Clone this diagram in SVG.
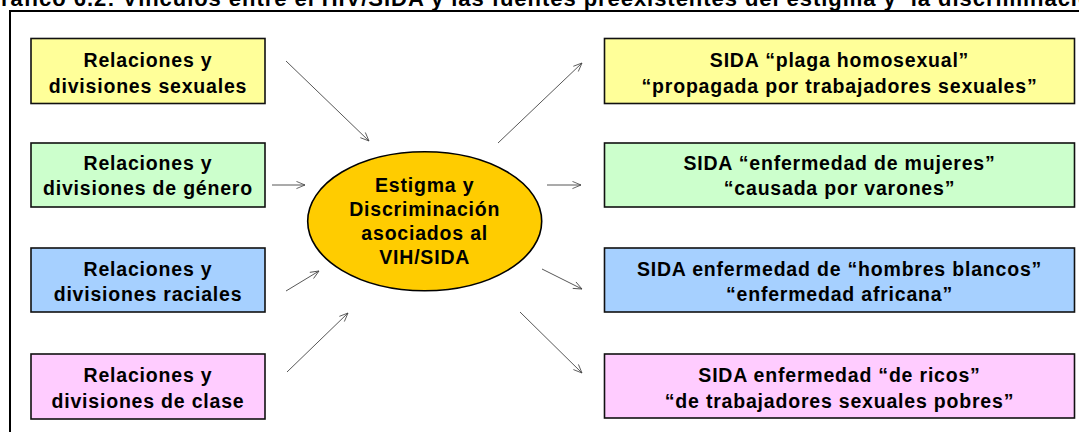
<svg xmlns="http://www.w3.org/2000/svg" width="1079" height="432" viewBox="0 0 1079 432">
<style>
.t{font-family:"Liberation Sans",Arial,sans-serif;font-weight:bold;font-size:19.5px;letter-spacing:0.8px;fill:#000;text-anchor:middle}
.title{font-family:"Liberation Sans",Arial,sans-serif;font-weight:bold;font-size:22px;letter-spacing:0.95px;fill:#000;white-space:pre}
.box{stroke:#111;stroke-width:1.6}
.c{stroke:#444;stroke-width:0.9;fill:none;marker-end:url(#ah)}
</style>
<defs>
<marker id="ah" viewBox="0 0 10 10" refX="10" refY="5" markerWidth="10" markerHeight="9" markerUnits="userSpaceOnUse" orient="auto">
<path d="M0.5,1 L10,5 L0.5,9" fill="none" stroke="#444" stroke-width="0.9"/>
</marker>
</defs>
<rect width="1079" height="432" fill="#fff"/>
<text class="title" x="-17" y="6">Gráfico 6.2: Vínculos entre el HIV/SIDA y las fuentes preexistentes del estigma y  la discriminación</text>
<path d="M10,440 V11 H1090" fill="none" stroke="#000" stroke-width="2"/>

<g id="connectors">
<line class="c" x1="286" y1="61" x2="369" y2="141"/>
<line class="c" x1="272" y1="185" x2="305" y2="185"/>
<line class="c" x1="286" y1="291" x2="319" y2="271"/>
<line class="c" x1="287" y1="372" x2="348" y2="313"/>
<line class="c" x1="498" y1="143" x2="582" y2="63"/>
<line class="c" x1="547" y1="185" x2="581" y2="185"/>
<line class="c" x1="542" y1="269" x2="582" y2="289"/>
<line class="c" x1="520" y1="312" x2="582" y2="373"/>
</g>

<g id="center">
<ellipse cx="424.7" cy="221.2" rx="117" ry="69.5" fill="#FFCC00" stroke="#000" stroke-width="1.6"/>
<text class="t" x="424.7" y="192">Estigma y</text>
<text class="t" x="424.7" y="216">Discriminación</text>
<text class="t" x="424.7" y="240">asociados al</text>
<text class="t" x="424.7" y="264">VIH/SIDA</text>
</g>

<g id="l1">
<rect class="box" x="31" y="38.5" width="234" height="65" fill="#FFFF99"/>
<text class="t" x="148" y="67">Relaciones y</text>
<text class="t" x="148" y="93">divisiones sexuales</text>
</g>
<g id="l2">
<rect class="box" x="31" y="143" width="234" height="64" fill="#CCFFCC"/>
<text class="t" x="148" y="170">Relaciones y</text>
<text class="t" x="148" y="195">divisiones de género</text>
</g>
<g id="l3">
<rect class="box" x="31" y="248" width="234" height="64" fill="#A6D0FF"/>
<text class="t" x="148" y="276">Relaciones y</text>
<text class="t" x="148" y="301">divisiones raciales</text>
</g>
<g id="l4">
<rect class="box" x="31" y="354" width="234" height="65" fill="#FFCCFF"/>
<text class="t" x="148" y="382">Relaciones y</text>
<text class="t" x="148" y="408">divisiones de clase</text>
</g>

<g id="r1">
<rect class="box" x="604.5" y="38.5" width="470" height="65" fill="#FFFF99"/>
<text class="t" x="839.5" y="67">SIDA “plaga homosexual”</text>
<text class="t" x="839.5" y="93">“propagada por trabajadores sexuales”</text>
</g>
<g id="r2">
<rect class="box" x="604.5" y="143" width="470" height="64" fill="#CCFFCC"/>
<text class="t" x="839.5" y="170">SIDA “enfermedad de mujeres”</text>
<text class="t" x="839.5" y="195">“causada por varones”</text>
</g>
<g id="r3">
<rect class="box" x="604.5" y="248" width="470" height="64" fill="#A6D0FF"/>
<text class="t" x="839.5" y="276">SIDA enfermedad de “hombres blancos”</text>
<text class="t" x="839.5" y="301">“enfermedad africana”</text>
</g>
<g id="r4">
<rect class="box" x="604.5" y="354" width="470" height="64" fill="#FFCCFF"/>
<text class="t" x="839.5" y="382">SIDA enfermedad “de ricos”</text>
<text class="t" x="839.5" y="408">“de trabajadores sexuales pobres”</text>
</g>
</svg>
